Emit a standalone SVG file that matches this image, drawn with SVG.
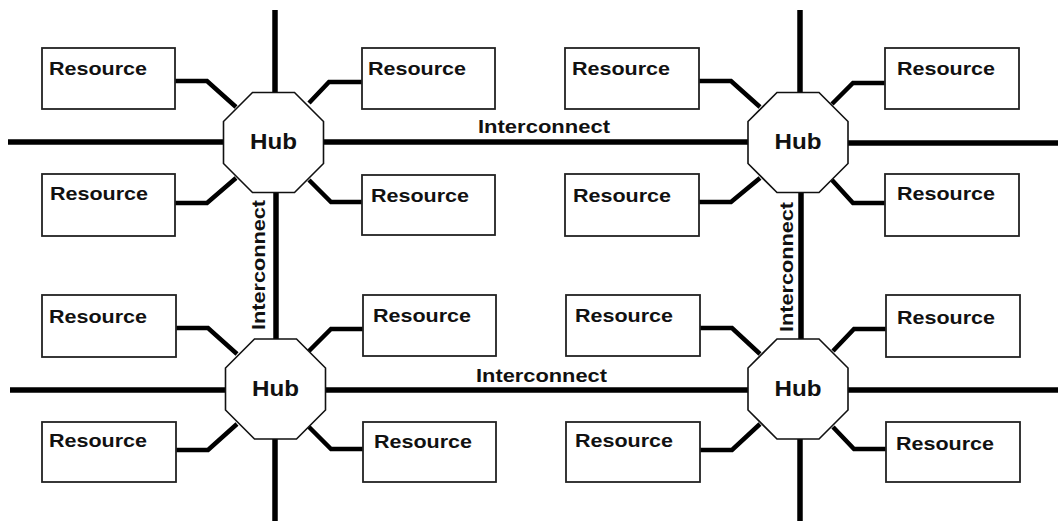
<svg xmlns="http://www.w3.org/2000/svg" width="1058" height="522" viewBox="0 0 1058 522">
<style>
.bus{stroke:#000;stroke-width:5.5;fill:none}
.stub{stroke:#000;stroke-width:4.5;fill:none;stroke-linejoin:miter}
.box{fill:#fff;stroke:#222;stroke-width:1.8}
.hub{fill:#fff;stroke:#111;stroke-width:1.6}
.t{font-family:"Liberation Sans",Arial,sans-serif;font-weight:bold;fill:#111}
.rt{font-size:19px}
.ht{font-size:22px;text-anchor:middle}
.it{font-size:19px;text-anchor:middle}
</style>
<defs>
<polygon id="oct" class="hub" points="-21,-50 21,-50 50,-21 50,21 21,50 -21,50 -50,21 -50,-21"/>
</defs>
<rect width="1058" height="522" fill="#fff"/>
<g id="connectors">
<line class="bus" x1="275" y1="10" x2="275" y2="93"/>
<line class="bus" x1="800" y1="10" x2="800" y2="93"/>
<line class="bus" x1="8" y1="142" x2="224" y2="142"/>
<line class="bus" x1="323" y1="142" x2="749" y2="142"/>
<line class="bus" x1="847" y1="143" x2="1058" y2="143"/>
<line class="bus" x1="276" y1="192" x2="276" y2="340"/>
<line class="bus" x1="801" y1="192" x2="801" y2="340"/>
<line class="bus" x1="10" y1="390" x2="226" y2="390"/>
<line class="bus" x1="324" y1="390" x2="749" y2="390"/>
<line class="bus" x1="847" y1="390" x2="1058" y2="390"/>
<line class="bus" x1="275" y1="438" x2="275" y2="521"/>
<line class="bus" x1="800" y1="438" x2="800" y2="521"/>
<polyline class="stub" points="175,81 207,81 236,107"/>
<polyline class="stub" points="175,203 207,203 236,178"/>
<polyline class="stub" points="362,82 329,82 309,103"/>
<polyline class="stub" points="362,202 331,202 309,180"/>
<polyline class="stub" points="699,81 731,81 760,107"/>
<polyline class="stub" points="699,202 731,202 760,178"/>
<polyline class="stub" points="885,83 853,83 832,104"/>
<polyline class="stub" points="885,203 853,203 832,180"/>
<polyline class="stub" points="176,328 208,328 237,354"/>
<polyline class="stub" points="176,450 208,450 237,424"/>
<polyline class="stub" points="363,329 331,329 309,351"/>
<polyline class="stub" points="363,449 331,449 309,427"/>
<polyline class="stub" points="700,328 732,328 760,354"/>
<polyline class="stub" points="700,450 732,450 760,424"/>
<polyline class="stub" points="886,329 854,329 833,351"/>
<polyline class="stub" points="886,449 854,449 833,427"/>
<text class="t it" x="544" y="133" textLength="132" lengthAdjust="spacingAndGlyphs">Interconnect</text>
<text class="t it" x="541.5" y="382" textLength="131" lengthAdjust="spacingAndGlyphs">Interconnect</text>
<text class="t it" transform="translate(265,265) rotate(-90)" textLength="130" lengthAdjust="spacingAndGlyphs">Interconnect</text>
<text class="t it" transform="translate(793,267) rotate(-90)" textLength="130" lengthAdjust="spacingAndGlyphs">Interconnect</text>
</g>
<g id="hub1"><use href="#oct" x="273.5" y="142.5"/><text class="t ht" x="273.5" y="149" textLength="47" lengthAdjust="spacingAndGlyphs">Hub</text></g>
<g id="hub2"><use href="#oct" x="798" y="142.5"/><text class="t ht" x="798" y="149" textLength="47" lengthAdjust="spacingAndGlyphs">Hub</text></g>
<g id="hub3"><use href="#oct" x="275.5" y="389"/><text class="t ht" x="275.5" y="396" textLength="47" lengthAdjust="spacingAndGlyphs">Hub</text></g>
<g id="hub4"><use href="#oct" x="798" y="389"/><text class="t ht" x="798" y="396" textLength="47" lengthAdjust="spacingAndGlyphs">Hub</text></g>
<g id="r1"><rect class="box" x="42" y="48" width="133" height="61"/><text class="t rt" x="49" y="75" textLength="98" lengthAdjust="spacingAndGlyphs">Resource</text></g>
<g id="r2"><rect class="box" x="42" y="174" width="133" height="62"/><text class="t rt" x="50" y="200" textLength="98" lengthAdjust="spacingAndGlyphs">Resource</text></g>
<g id="r3"><rect class="box" x="362" y="48" width="133" height="61"/><text class="t rt" x="368" y="75" textLength="98" lengthAdjust="spacingAndGlyphs">Resource</text></g>
<g id="r4"><rect class="box" x="362" y="175" width="133" height="60"/><text class="t rt" x="371" y="202" textLength="98" lengthAdjust="spacingAndGlyphs">Resource</text></g>
<g id="r5"><rect class="box" x="565" y="48" width="134" height="61"/><text class="t rt" x="572" y="75" textLength="98" lengthAdjust="spacingAndGlyphs">Resource</text></g>
<g id="r6"><rect class="box" x="565" y="174" width="134" height="62"/><text class="t rt" x="573" y="202" textLength="98" lengthAdjust="spacingAndGlyphs">Resource</text></g>
<g id="r7"><rect class="box" x="885" y="48" width="134" height="61"/><text class="t rt" x="897" y="75" textLength="98" lengthAdjust="spacingAndGlyphs">Resource</text></g>
<g id="r8"><rect class="box" x="885" y="174" width="134" height="62"/><text class="t rt" x="897" y="200" textLength="98" lengthAdjust="spacingAndGlyphs">Resource</text></g>
<g id="r9"><rect class="box" x="42" y="295" width="134" height="62"/><text class="t rt" x="49" y="323" textLength="98" lengthAdjust="spacingAndGlyphs">Resource</text></g>
<g id="r10"><rect class="box" x="42" y="422" width="134" height="60"/><text class="t rt" x="49" y="447" textLength="98" lengthAdjust="spacingAndGlyphs">Resource</text></g>
<g id="r11"><rect class="box" x="363" y="295" width="133" height="61"/><text class="t rt" x="373" y="322" textLength="98" lengthAdjust="spacingAndGlyphs">Resource</text></g>
<g id="r12"><rect class="box" x="363" y="422" width="133" height="60"/><text class="t rt" x="374" y="448" textLength="98" lengthAdjust="spacingAndGlyphs">Resource</text></g>
<g id="r13"><rect class="box" x="566" y="295" width="134" height="61"/><text class="t rt" x="575" y="322" textLength="98" lengthAdjust="spacingAndGlyphs">Resource</text></g>
<g id="r14"><rect class="box" x="566" y="422" width="134" height="60"/><text class="t rt" x="575" y="447" textLength="98" lengthAdjust="spacingAndGlyphs">Resource</text></g>
<g id="r15"><rect class="box" x="886" y="295" width="134" height="62"/><text class="t rt" x="897" y="324" textLength="98" lengthAdjust="spacingAndGlyphs">Resource</text></g>
<g id="r16"><rect class="box" x="886" y="422" width="134" height="60"/><text class="t rt" x="896" y="450" textLength="98" lengthAdjust="spacingAndGlyphs">Resource</text></g>
</svg>
